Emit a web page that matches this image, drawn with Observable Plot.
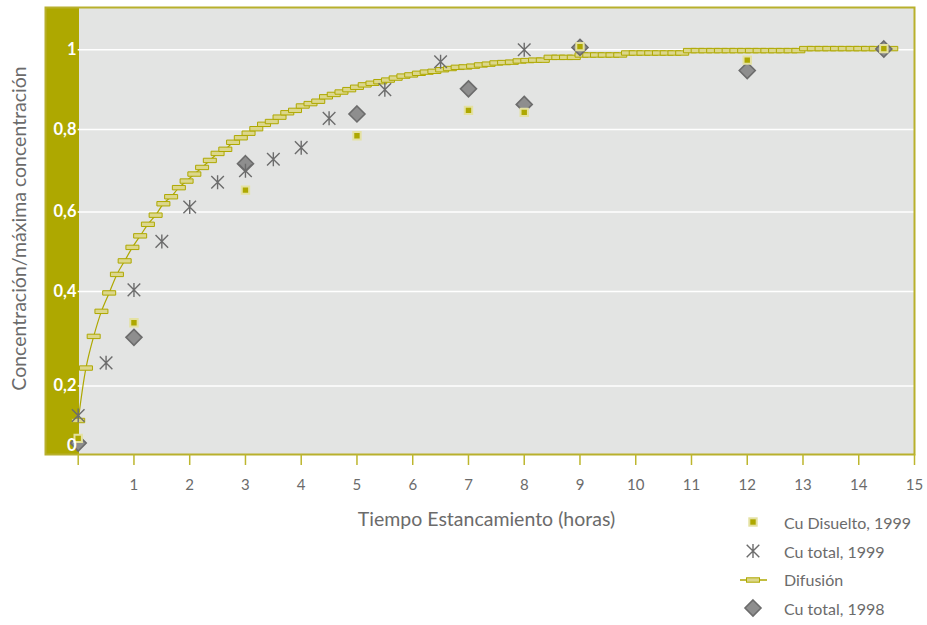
<!DOCTYPE html>
<html>
<head>
<meta charset="utf-8">
<script src="https://cdn.jsdelivr.net/npm/d3@7"></script>
<script src="https://cdn.jsdelivr.net/npm/@observablehq/plot@0.6"></script>
<style>
  html, body { margin: 0; padding: 0; background: #fff; }
  #chart { position: relative; width: 927px; height: 625px; font-family: Lato, sans-serif; }
  #chart > svg { position: absolute; left: 0; top: 0; }
  .legend { position: absolute; left: 736px; top: 508px; color: #6b6b6b; font-size: 16px; }
  .legend .item { display: flex; align-items: center; height: 28.7px; }
  .legend .item svg { width: 34px; height: 20px; margin-right: 14px; flex: none; }
</style>
</head>
<body>
<div id="chart"></div>
<script>
// Cu disuelto, campaña 1999 (concentración / máxima concentración)
const horasDisuelto1999 = [0, 1, 3, 5, 7, 8, 9, 12, 14.45];
const cuDisuelto1999 = [0.024, 0.334, 0.653, 0.785, 0.848, 0.843, 1.008, 0.974, 1.003];

// Cu total, campaña 1999
const horasTotal1999 = [0, 0.5, 1, 1.5, 2, 2.5, 3, 3.5, 4, 4.5, 5.5, 6.5, 8];
const cuTotal1999 = [0.101, 0.249, 0.404, 0.526, 0.612, 0.672, 0.700, 0.728, 0.756, 0.828, 0.900, 0.970, 1.000];

// Cu total, campaña 1998
const horasTotal1998 = [0, 1, 3, 5, 7, 8, 9, 12, 14.45];
const cuTotal1998 = [0.008, 0.303, 0.717, 0.839, 0.902, 0.863, 1.006, 0.948, 1.002];

// Modelo de difusión, un valor cada 500 s de estancamiento
const pasoDifusionHoras = 500 / 3600;
const difusion = [
  0.084, 0.238, 0.305, 0.358, 0.397, 0.443, 0.477, 0.511, 0.540, 0.569,
  0.592, 0.620, 0.637, 0.659, 0.675, 0.692, 0.708, 0.725, 0.742, 0.752,
  0.769, 0.780, 0.791, 0.802, 0.813, 0.820, 0.831, 0.842, 0.848, 0.859,
  0.865, 0.871, 0.882, 0.888, 0.894, 0.900, 0.906, 0.912, 0.916, 0.920,
  0.924, 0.929, 0.934, 0.937, 0.941, 0.944, 0.946, 0.950, 0.953, 0.956,
  0.957, 0.959, 0.962, 0.964, 0.967, 0.968, 0.969, 0.972, 0.973, 0.974,
  0.974, 0.981, 0.981, 0.981, 0.981, 0.987, 0.987, 0.987, 0.987, 0.987,
  0.987, 0.992, 0.992, 0.992, 0.992, 0.992, 0.992, 0.992, 0.992, 0.998,
  0.998, 0.998, 0.998, 0.998, 0.998, 0.998, 0.998, 0.998, 0.998, 0.998,
  0.998, 0.998, 0.998, 0.998, 1.003, 1.003, 1.003, 1.003, 1.003, 1.003,
  1.003, 1.003, 1.003, 1.003, 1.003, 1.003
];
const horasDifusion = difusion.map((_, i) => i * pasoDifusionHoras);

// Ejes
const ticksX = [0, 1, 2, 3, 4, 5, 6, 7, 8, 9, 10, 11, 12, 13, 14, 15];
const ticksY = [0, 0.2, 0.4, 0.6, 0.8, 1];
// Altura (px sobre el cero) de cada marca del eje vertical: la escala original no es uniforme
const alturaTicksY = [0, 59.5, 154, 233.5, 316, 395.7];
const tituloX = "Tiempo Estancamiento (horas)";
const tituloY = "Concentración/máxima concentración";
const series = ["Cu Disuelto, 1999", "Cu total, 1999", "Difusión", "Cu total, 1998"];

// Paleta
const olivo = "#aea800";
const bordeOlivo = "#b8b02c";
const fondo = "#e3e4e3";
const grisTexto = "#6b6b6b";
const grisSimbolo = "#6c6c6c";
const rellenoRombo = "#8e8e8e";
const halo = "#e4e1a2";
const rellenoBarra = "#dcd78c";

// Símbolos propios
const asterisco = { draw(ctx) { const a = 7, b = 6.3; ctx.moveTo(0, -a); ctx.lineTo(0, a); ctx.moveTo(-b, -b); ctx.lineTo(b, b); ctx.moveTo(-b, b); ctx.lineTo(b, -b); } };
const rombo = { draw(ctx) { const r = 8; ctx.moveTo(0, -r); ctx.lineTo(r, 0); ctx.lineTo(0, r); ctx.lineTo(-r, 0); ctx.closePath(); } };
const cuadro = { draw(ctx) { const s = 3.7; ctx.rect(-s, -s, 2 * s, 2 * s); } };
const barra = { draw(ctx) { ctx.rect(-6.5, -2.2, 13, 4.4); } };

const filas = (xs, ys) => xs.map((x, i) => ({ x, y: ys[i] }));
const datosDisuelto = filas(horasDisuelto1999, cuDisuelto1999);
const datosTotal1999 = filas(horasTotal1999, cuTotal1999);
const datosTotal1998 = filas(horasTotal1998, cuTotal1998);
const datosDifusion = filas(horasDifusion, difusion);

const formatoY = d => String(d).replace(".", ",");
const alturaY = d3.scaleLinear().domain(ticksY).range(alturaTicksY);

const grafico = Plot.plot({
  width: 927,
  height: 625,
  marginLeft: 45,
  marginRight: 13,
  marginTop: 7,
  marginBottom: 171,
  style: { fontFamily: "Lato, sans-serif", background: "transparent", overflow: "visible" },
  x: { domain: [0, 15], range: [77.7, 914] },
  y: { transform: alturaY, domain: [-9, 438] },
  marks: [
    Plot.frame({ fill: olivo }),
    Plot.frame({ fill: fondo, insetLeft: 33.5 }),
    Plot.ruleY(ticksY.filter(d => d > 0), { x1: 0, x2: 15, stroke: "#ffffff", strokeWidth: 1.5 }),
    Plot.line(datosDifusion, { x: "x", y: "y", stroke: olivo, strokeWidth: 1.2, curve: "catmull-rom" }),
    Plot.dot(datosDifusion, { x: "x", y: "y", symbol: barra, fill: rellenoBarra, stroke: olivo, strokeWidth: 1 }),
    Plot.dot(datosTotal1998, { x: "x", y: "y", symbol: rombo, fill: rellenoRombo, stroke: grisSimbolo, strokeWidth: 1.6 }),
    Plot.dot(datosDisuelto, { x: "x", y: "y", symbol: cuadro, fill: olivo, stroke: halo, strokeWidth: 2 }),
    Plot.dot(datosTotal1999, { x: "x", y: "y", symbol: asterisco, fill: "none", stroke: grisSimbolo, strokeWidth: 1.4 }),
    Plot.frame({ stroke: bordeOlivo, strokeWidth: 2 }),
    Plot.axisX(ticksX, {
      tickSize: 11, tickPadding: 14, stroke: "#bdb62e", strokeWidth: 1.5,
      fill: grisTexto, fontSize: 15, tickFormat: d => (d === 0 ? "" : String(d)), label: null
    }),
    Plot.axisY(ticksY, {
      tickSize: 0, tickPadding: 0, dx: 31, fill: "#ffffff", fontSize: 16.5, fontWeight: "bold",
      tickFormat: formatoY, label: null
    }),
    Plot.text([tituloX], { frameAnchor: "bottom", dy: 71, dx: 6.5, fontSize: 19.5, fill: grisTexto }),
    Plot.text([tituloY], { frameAnchor: "left", textAnchor: "middle", rotate: -90, dx: -26, dy: -2.5, fontSize: 19.5, fill: grisTexto })
  ]
});

const contenedor = document.getElementById("chart");
contenedor.appendChild(grafico);

// Leyenda
const iconos = [
  `<rect x="13.3" y="6.3" width="7.4" height="7.4" fill="${olivo}" stroke="${halo}" stroke-width="2"/>`,
  `<path d="M17 3V17M10.7 3.7L23.3 16.3M10.7 16.3L23.3 3.7" fill="none" stroke="${grisSimbolo}" stroke-width="1.4"/>`,
  `<line x1="4" y1="10" x2="31" y2="10" stroke="${olivo}" stroke-width="1.5"/><rect x="10.5" y="7.8" width="13" height="4.4" fill="${rellenoBarra}" stroke="${olivo}"/>`,
  `<path d="M17 2L25 10L17 18L9 10Z" fill="${rellenoRombo}" stroke="${grisSimbolo}" stroke-width="1.6"/>`
];
const leyenda = document.createElement("div");
leyenda.className = "legend";
leyenda.innerHTML = series.map((s, i) =>
  `<div class="item"><svg viewBox="0 0 34 20">${iconos[i]}</svg><span>${s}</span></div>`
).join("");
contenedor.appendChild(leyenda);
</script>
</body>
</html>
